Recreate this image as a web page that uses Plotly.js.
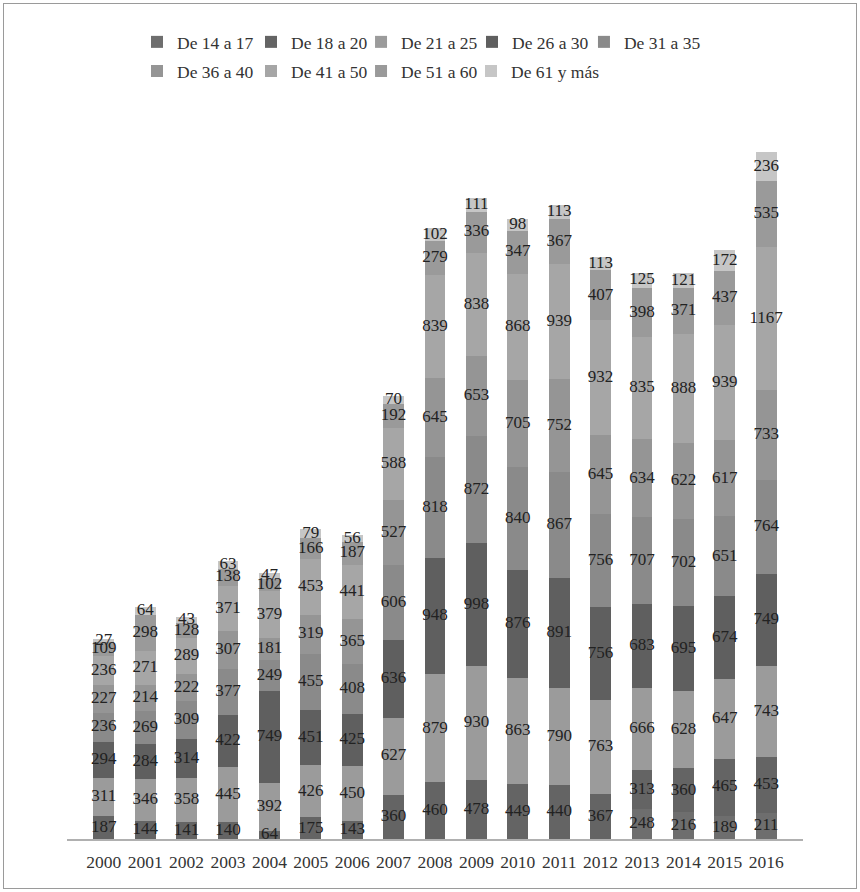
<!DOCTYPE html>
<html>
<head>
<meta charset="utf-8">
<script src="https://cdn.plot.ly/plotly-3.0.1.min.js"></script>
<style>
  html, body { margin: 0; padding: 0; background: #fff; }
  #wrap { position: relative; width: 860px; height: 892px; }
  #chart { position: absolute; left: 0; top: 0; width: 860px; height: 892px; }
  #frame { position: absolute; left: 3px; top: 3px; width: 852px; height: 884px; border: 1px solid #9a9a9a; pointer-events: none; }
</style>
</head>
<body>
<div id="wrap"><div id="chart"></div><div id="frame"></div></div>
<script>
// ---- data ----
const years = ["2000","2001","2002","2003","2004","2005","2006","2007","2008","2009","2010","2011","2012","2013","2014","2015","2016"];
const seriesNames = ["De 14 a 17","De 18 a 20","De 21 a 25","De 26 a 30","De 31 a 35","De 36 a 40","De 41 a 50","De 51 a 60","De 61 y más"];
const de14a17 = [null,null,null,null,null,null,null,null,null,null,null,null,null,248,216,189,211];
const de18a20 = [187,144,141,140,64,175,143,360,460,478,449,440,367,313,360,465,453];
const de21a25 = [311,346,358,445,392,426,450,627,879,930,863,790,763,666,628,647,743];
const de26a30 = [294,284,314,422,749,451,425,636,948,998,876,891,756,683,695,674,749];
const de31a35 = [236,269,309,377,249,455,408,606,818,872,840,867,756,707,702,651,764];
const de36a40 = [227,214,222,307,181,319,365,527,645,653,705,752,645,634,622,617,733];
const de41a50 = [236,271,289,371,379,453,441,588,839,838,868,939,932,835,888,939,1167];
const de51a60 = [109,298,128,138,102,166,187,192,279,336,347,367,407,398,371,437,535];
const de61mas = [27,64,43,63,47,79,56,70,102,111,98,113,113,125,121,172,236];
const seriesValues = [de14a17,de18a20,de21a25,de26a30,de31a35,de36a40,de41a50,de51a60,de61mas];
const seriesColors = ["#6e6e6e","#646464","#9b9b9b","#5f5f5f","#8a8a8a","#959595","#a6a6a6","#9a9a9a","#c6c6c6"];

const FONT = "Liberation Serif";
const legendX = [0.0951, 0.25, 0.3995, 0.5503, 0.7024, 0.0951, 0.25, 0.3995, 0.5489];
const legendRowY = [1.1085, 1.1085, 1.1085, 1.1085, 1.1085, 1.068, 1.068, 1.068, 1.068];

const traces = [];
const layout = {
  width: 860, height: 892,
  margin: { l: 67, r: 57, t: 120, b: 53 },
  paper_bgcolor: "#fff", plot_bgcolor: "#fff",
  barmode: "stack", bargap: 0.5,
  font: { family: FONT, size: 17, color: "#333" },
  xaxis: {
    type: "category", showgrid: false, zeroline: false,
    showline: true, linecolor: "#b0b0b0", linewidth: 2,
    ticks: "", ticklabelstandoff: 6,
    tickfont: { family: FONT, size: 17.5, color: "#333" }
  },
  yaxis: { visible: false, range: [0, 5850], showgrid: false, zeroline: false },
  showlegend: true
};

seriesValues.forEach((vals, i) => {
  const lname = i === 0 ? "legend" : "legend" + (i + 1);
  traces.push({
    type: "bar", name: seriesNames[i], x: years, y: vals,
    marker: { color: seriesColors[i], line: { width: 0 } },
    legend: lname, hoverinfo: "x+y+name"
  });
  layout[lname] = {
    orientation: "h", x: legendX[i], xanchor: "left", y: legendRowY[i], yanchor: "middle",
    font: { family: FONT, size: 17.5, color: "#333" }, bgcolor: "rgba(0,0,0,0)"
  };
});

// value labels at the centre of each stacked segment
const lx = [], ly = [], lt = [];
years.forEach((yr, j) => {
  let cum = 0;
  seriesValues.forEach(vals => {
    const v = vals[j];
    if (v === null || v === undefined) return;
    lx.push(yr); ly.push(cum + v / 2); lt.push(String(v));
    cum += v;
  });
});
traces.push({
  type: "scatter", mode: "text", x: lx, y: ly, text: lt,
  textposition: "middle center",
  textfont: { family: FONT, size: 17, color: "#222" },
  showlegend: false, hoverinfo: "skip", cliponaxis: false
});

Plotly.newPlot("chart", traces, layout, { displayModeBar: false, staticPlot: true });
</script>
</body>
</html>
